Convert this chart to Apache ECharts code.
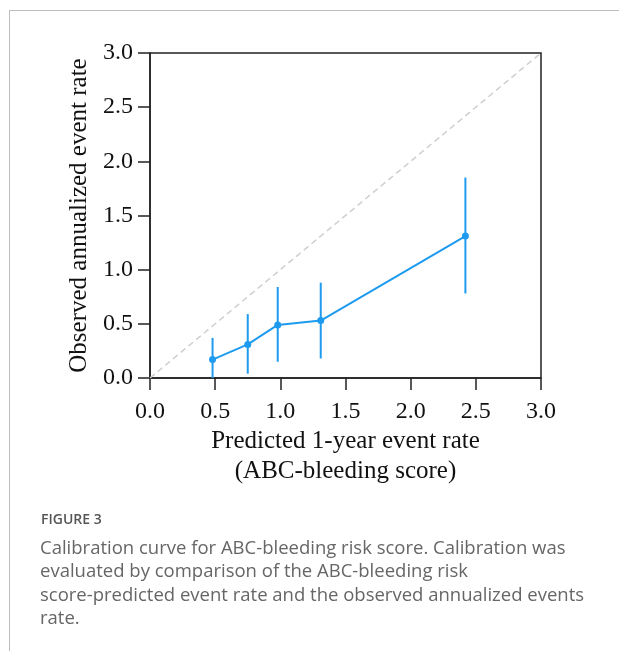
<!DOCTYPE html>
<html>
<head>
<meta charset="utf-8">
<script src="https://cdn.jsdelivr.net/npm/echarts@6/dist/echarts.min.js"></script>
<style>
  html, body { margin: 0; padding: 0; background: #fff; }
  #wrap { position: relative; width: 619px; height: 651px; overflow: hidden; }
  #frame { position: absolute; left: 9px; top: 10px; width: 620px; height: 660px;
           border-left: 1px solid #bdbdbd; border-top: 1px solid #bdbdbd; }
  #chart { position: absolute; left: 0; top: 0; width: 619px; height: 651px; }
  #fig { position: absolute; left: 41px; top: 509px; font-family: "Open Sans", Lato, sans-serif;
         font-size: 14px; font-weight: 600; color: #555; }
  #cap { position: absolute; left: 40px; top: 535px; width: 578px; font-family: "Open Sans", Lato, sans-serif;
         font-size: 18.5px; line-height: 23.3px; color: #666; white-space: nowrap; }
</style>
</head>
<body>
<div id="wrap">
  <div id="frame"></div>
  <div id="chart"></div>
  <div id="fig">FIGURE 3</div>
  <div id="cap">Calibration curve for ABC-bleeding risk score. Calibration was<br>evaluated by comparison of the ABC-bleeding risk<br>score-predicted event rate and the observed annualized events<br>rate.</div>
</div>
<script>
// ---- data ----
const xPredicted = [0.48, 0.75, 0.98, 1.31, 2.42];
const yObserved  = [0.17, 0.31, 0.49, 0.53, 1.31];
const ciLower    = [0.00, 0.04, 0.15, 0.18, 0.78];
const ciUpper    = [0.37, 0.59, 0.84, 0.88, 1.85];
const identityLine = [[0, 0], [3, 3]];
const axisMin = 0, axisMax = 3, axisStep = 0.5;
const xTitle = "Predicted 1-year event rate\n(ABC-bleeding score)";
const yTitle = "Observed annualized event rate";

const serif = '"Liberation Serif", "DejaVu Serif", serif';
const blue = '#1e9bef';

const pointData = xPredicted.map((x, i) => [x, yObserved[i]]);
const barData = xPredicted.map((x, i) => [x, ciLower[i], ciUpper[i]]);

const chart = echarts.init(document.getElementById('chart'), null, { renderer: 'canvas' });

const axisCommon = {
  type: 'value',
  min: axisMin, max: axisMax, interval: axisStep,
  splitLine: { show: false },
  axisLine: { show: true, lineStyle: { color: '#222', width: 1.5 } },
  axisTick: { show: true, inside: false, length: 12, lineStyle: { color: '#222', width: 1.5 } },
  axisLabel: { formatter: v => v.toFixed(1), fontFamily: serif, fontSize: 24, color: '#111' },
  nameLocation: 'middle',
  nameTextStyle: { fontFamily: serif, fontSize: 25, color: '#111' }
};

chart.setOption({
  animation: false,
  grid: { left: 150, right: 78, top: 53, bottom: 273, show: true, borderColor: '#222', borderWidth: 1.5, backgroundColor: 'transparent' },
  xAxis: Object.assign({}, axisCommon, {
    name: xTitle, nameGap: 48,
    nameTextStyle: Object.assign({}, axisCommon.nameTextStyle, { lineHeight: 30 }),
    axisLabel: Object.assign({}, axisCommon.axisLabel, { margin: 22 })
  }),
  yAxis: Object.assign({}, axisCommon, {
    name: yTitle, nameGap: 58,
    axisLabel: Object.assign({}, axisCommon.axisLabel, { margin: 17 })
  }),
  series: [
    {
      type: 'line', data: identityLine, symbol: 'none', silent: true,
      lineStyle: { color: '#cfcfcf', width: 1.5, type: [6, 4] }, z: 1
    },
    {
      type: 'custom', data: barData, clip: true, z: 2,
      renderItem: function (params, api) {
        const p1 = api.coord([api.value(0), api.value(1)]);
        const p2 = api.coord([api.value(0), api.value(2)]);
        return {
          type: 'line',
          shape: { x1: p1[0], y1: p1[1], x2: p2[0], y2: p2[1] },
          style: { stroke: blue, lineWidth: 2 }
        };
      },
      encode: { x: 0, y: [1, 2] }
    },
    {
      type: 'line', data: pointData, symbol: 'circle', symbolSize: 7, z: 3,
      itemStyle: { color: blue }, lineStyle: { color: blue, width: 2 }
    }
  ]
});
</script>
</body>
</html>
